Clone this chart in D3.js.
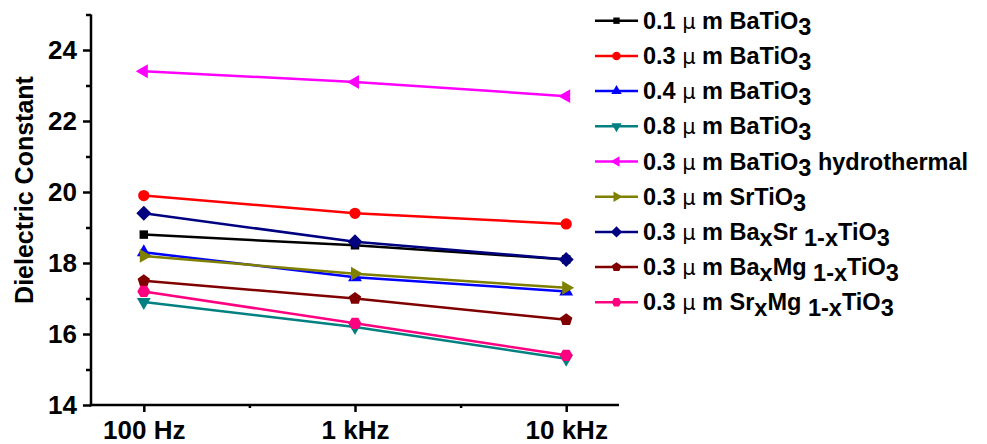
<!DOCTYPE html>
<html><head><meta charset="utf-8">
<script src="https://cdn.jsdelivr.net/npm/d3@7"></script>
<style>body{margin:0;background:#fff}svg{display:block}</style>
</head><body><svg id="c" width="987" height="444"></svg>
<script>
// ---- data ----
const categories = ["100 Hz", "1 kHz", "10 kHz"];
const seriesLabels = [
  "0.1 μ m BaTiO_{3}",
  "0.3 μ m BaTiO_{3}",
  "0.4 μ m BaTiO_{3}",
  "0.8 μ m BaTiO_{3}",
  "0.3 μ m BaTiO_{3} hydrothermal",
  "0.3 μ m SrTiO_{3}",
  "0.3 μ m Ba_{x}Sr_{ 1-x}TiO_{3}",
  "0.3 μ m Ba_{x}Mg_{ 1-x}TiO_{3}",
  "0.3 μ m Sr_{x}Mg_{ 1-x}TiO_{3}"
];
const bt01 = [18.8, 18.5, 18.1];
const bt03 = [19.9, 19.4, 19.1];
const bt04 = [18.3, 17.6, 17.2];
const bt08 = [16.9, 16.2, 15.3];
const bt03hydro = [23.4, 23.1, 22.7];
const st03 = [18.2, 17.7, 17.3];
const bst03 = [19.4, 18.6, 18.1];
const bmt03 = [17.5, 17.0, 16.4];
const smt03 = [17.2, 16.3, 15.4];
const seriesValues = [bt01, bt03, bt04, bt08, bt03hydro, st03, bst03, bmt03, smt03];
const colors = ["#000000", "#ff0000", "#0000ff", "#008080", "#ff00ff", "#808000", "#000080", "#800000", "#ff0080"];
const markers = ["square", "circle", "up", "down", "left", "right", "diamond", "pentagon", "hexagon"];
const yMajorTicks = [14, 16, 18, 20, 22, 24];
const yMinorTicks = [15, 17, 19, 21, 23, 25];
const yTitle = "Dielectric Constant";

// ---- layout ----
const FONT = "'Liberation Sans', Arial, Helvetica, sans-serif";
const svg = d3.select("#c");
const x = d3.scaleLinear().domain([-0.25, 2.25]).range([91, 619]);
const y = d3.scaleLinear().domain([14, 25]).range([405, 14.5]);

function poly(n, r, rot) {
  const pts = d3.range(n).map(i => {
    const a = rot + i * 2 * Math.PI / n;
    return [r * Math.cos(a), r * Math.sin(a)];
  });
  return "M" + pts.map(p => p.join(",")).join("L") + "Z";
}
function shape(name, s) {
  switch (name) {
    case "square": return d3.symbol(d3.symbolSquare, 72 * s * s)();
    case "circle": return d3.symbol(d3.symbolCircle, Math.PI * 32 * s * s)();
    case "up": return poly(3, 8 * s, -Math.PI / 2);
    case "down": return poly(3, 8 * s, Math.PI / 2);
    case "left": return poly(3, 8 * s, Math.PI);
    case "right": return poly(3, 8 * s, 0);
    case "diamond": return poly(4, 7.5 * s, -Math.PI / 2);
    case "pentagon": return poly(5, 6.5 * s, -Math.PI / 2);
    case "hexagon": return poly(6, 6.5 * s, 0);
  }
}

// axes
const gy = svg.append("g").attr("transform", `translate(${x.range()[0]},0)`);
gy.call(d3.axisLeft(y).tickValues(yMajorTicks).tickSize(8).tickSizeOuter(0).tickPadding(6).tickFormat(d3.format("d")));
const gyMinor = svg.append("g").attr("transform", `translate(${x.range()[0]},0)`);
gyMinor.call(d3.axisLeft(y).tickValues(yMinorTicks).tickSize(5).tickSizeOuter(0).tickFormat(""));
gyMinor.select(".domain").remove();

const gx = svg.append("g").attr("transform", `translate(0,${y.range()[0]})`);
gx.call(d3.axisBottom(x).tickValues([0, 1, 2]).tickSize(7).tickSizeOuter(0).tickPadding(9).tickFormat(i => categories[i]));
const gxMinor = svg.append("g").attr("transform", `translate(0,${y.range()[0]})`);
gxMinor.call(d3.axisBottom(x).tickValues([0.5, 1.5]).tickSize(3).tickSizeOuter(0).tickFormat(""));
gxMinor.select(".domain").remove();

svg.selectAll(".domain").attr("stroke", "#000").attr("stroke-width", 2.5);
svg.selectAll(".tick line").attr("stroke", "#000").attr("stroke-width", 2.5);
svg.selectAll(".tick text").attr("font-family", FONT).attr("font-size", 26).attr("font-weight", "bold").attr("fill", "#000");
gy.select(".domain").attr("d", `M0,${y.range()[1]}V${y.range()[0] + 1.25}`);
gx.select(".domain").attr("d", `M${x.range()[0] - 1.25},0H${x.range()[1]}`);

svg.append("text")
  .attr("transform", `translate(33,190) rotate(-90)`)
  .attr("text-anchor", "middle")
  .attr("font-family", FONT).attr("font-size", 25).attr("font-weight", "bold")
  .text(yTitle);

// series
const line = d3.line().x((d, i) => x(i)).y(d => y(d));
seriesValues.forEach((vals, k) => {
  const g = svg.append("g");
  g.append("path").attr("d", line(vals)).attr("fill", "none").attr("stroke", colors[k]).attr("stroke-width", 2.5);
  g.selectAll("path.m").data(vals).join("path").attr("class", "m")
    .attr("transform", (d, i) => `translate(${x(i)},${y(d)})`)
    .attr("d", shape(markers[k], 1)).attr("fill", colors[k]);
});

// legend
function addLabel(sel, str) {
  const parts = str.split(/(_\{[^}]*\}|μ)/).filter(p => p !== "");
  let shifted = false;
  parts.forEach(p => {
    if (p === "μ") {
      sel.append("tspan").attr("font-weight", "normal").attr("font-family", "'DejaVu Sans', sans-serif").attr("font-size", 21).attr("dy", shifted ? -6 : 0).text(p);
      shifted = false;
    } else if (p.startsWith("_{")) {
      sel.append("tspan").attr("dy", shifted ? 0 : 6).text(p.slice(2, -1));
      shifted = true;
    } else {
      sel.append("tspan").attr("dy", shifted ? -6 : 0).text(p);
      shifted = false;
    }
  });
}
const lg = svg.append("g");
seriesLabels.forEach((lab, k) => {
  const cy = 20.7 + 35.2 * k;
  lg.append("line").attr("x1", 595).attr("x2", 638).attr("y1", cy).attr("y2", cy).attr("stroke", colors[k]).attr("stroke-width", 2.5);
  lg.append("path").attr("transform", `translate(616.5,${cy})`).attr("d", shape(markers[k], 0.75)).attr("fill", colors[k]);
  const t = lg.append("text").attr("x", 643).attr("y", cy + 8)
    .attr("font-family", FONT).attr("font-size", 23.5).attr("font-weight", "bold").style("white-space", "pre");
  addLabel(t, lab);
});
</script></body></html>
